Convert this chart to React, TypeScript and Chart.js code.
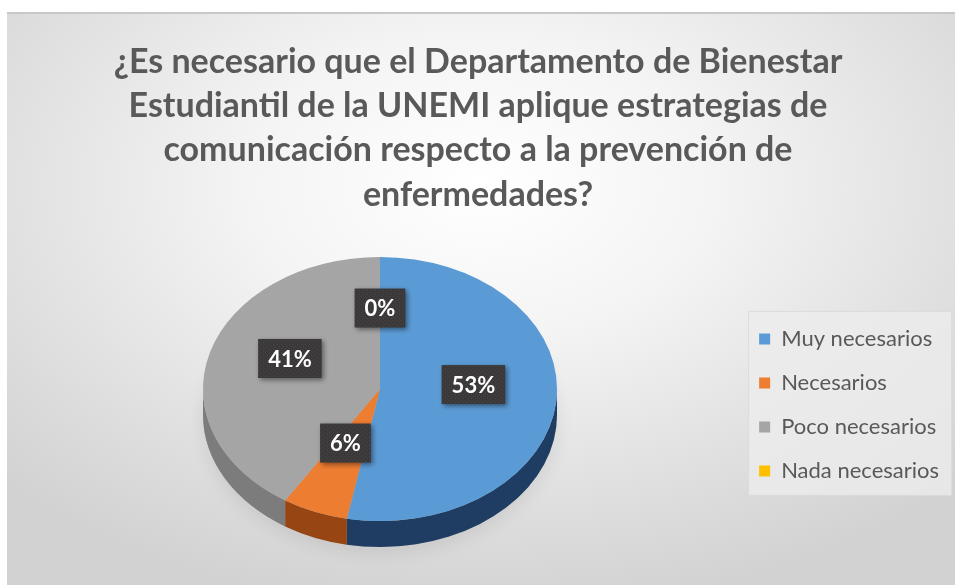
import React, { useEffect, useRef } from "react";
import { Chart, registerables } from "chart.js";

Chart.register(...registerables);

const titleLines = [
  "¿Es necesario que el Departamento de Bienestar",
  "Estudiantil de la UNEMI aplique estrategias de",
  "comunicación respecto a la prevención de",
  "enfermedades?",
];
const categories = ["Muy necesarios", "Necesarios", "Poco necesarios", "Nada necesarios"];
const percentValues = [53, 6, 41, 0];
const valueLabels = ["53%", "6%", "41%", "0%"];
const topColors = ["#5b9bd5", "#ed7d31", "#a5a5a5", "#ffc000"];
const sideColors = ["#1f3d63", "#974512", "#7c7c7c", "#a67c00"];

// ellipse geometry (canvas coordinates)
const CX = 373;
const CY = 375;
const RX = 177;
const RY = 132;
const DEPTH = 26;

const pie3d = {
  id: "pie3d",
  beforeDraw(chart: any) {
    const ctx = chart.ctx;
    const lg = chart.legend;
    if (lg && lg.legendHitBoxes && lg.legendHitBoxes.length) {
      const hb = lg.legendHitBoxes;
      const x = hb[0].left - 11;
      const y = hb[0].top - 17;
      const w = chart.width - 3 - x;
      const h = hb[hb.length - 1].top + hb[hb.length - 1].height + 14 - y;
      ctx.save();
      ctx.fillStyle = "rgba(236,236,236,0.8)";
      ctx.fillRect(x, y, w, h);
      ctx.strokeStyle = "rgba(210,210,210,0.6)";
      ctx.strokeRect(x + 0.5, y + 0.5, w - 1, h - 1);
      ctx.restore();
    }
  },
  beforeDatasetsDraw(chart: any) {
    const ctx = chart.ctx;
    const meta = chart.getDatasetMeta(0);
    const first = meta.data[0];
    const x0 = first.x;
    const y0 = first.y;
    const R = first.outerRadius;
    // shadow under the pie
    ctx.save();
    ctx.shadowColor = "rgba(0,0,0,0.25)";
    ctx.shadowBlur = 18;
    ctx.shadowOffsetY = 6;
    ctx.fillStyle = "rgba(120,120,120,0.35)";
    ctx.beginPath();
    ctx.ellipse(CX, CY + DEPTH, RX, RY, 0, 0, Math.PI * 2);
    ctx.fill();
    ctx.restore();
    // side walls
    meta.data.forEach((el: any, i: number) => {
      const a1 = Math.max(el.startAngle, 0);
      const a2 = Math.min(el.endAngle, Math.PI);
      if (a2 <= a1) return;
      ctx.save();
      ctx.fillStyle = sideColors[i];
      ctx.beginPath();
      ctx.ellipse(CX, CY, RX, RY, 0, a1, a2);
      ctx.ellipse(CX, CY + DEPTH, RX, RY, 0, a2, a1, true);
      ctx.closePath();
      ctx.fill();
      ctx.restore();
    });
    const k = RX / R;
    const s = RY / RX;
    ctx.save();
    ctx.translate(CX, CY);
    ctx.scale(k, k * s);
    ctx.translate(-x0, -y0);
  },
  afterDatasetsDraw(chart: any) {
    const ctx = chart.ctx;
    ctx.restore();
    const meta = chart.getDatasetMeta(0);
    // dotted texture pattern
    const pc = document.createElement("canvas");
    pc.width = 4;
    pc.height = 4;
    const pctx = pc.getContext("2d")!;
    pctx.fillStyle = "#3a3838";
    pctx.fillRect(0, 0, 4, 4);
    pctx.fillStyle = "#4a4848";
    pctx.fillRect(0, 0, 1, 1);
    pctx.fillRect(2, 2, 1, 1);
    const pattern = ctx.createPattern(pc, "repeat");
    ctx.save();
    ctx.font = "bold 22px Lato";
    ctx.textAlign = "center";
    ctx.textBaseline = "middle";
    meta.data.forEach((el: any, i: number) => {
      const mid = (el.startAngle + el.endAngle) / 2;
      const f = 0.53;
      const px = CX + RX * f * Math.cos(mid);
      const py = CY - 11 + RY * f * Math.sin(mid);
      const txt = valueLabels[i];
      const tw = ctx.measureText(txt).width;
      const bw = tw + 20;
      const bh = 39;
      ctx.save();
      ctx.shadowColor = "rgba(0,0,0,0.45)";
      ctx.shadowBlur = 5;
      ctx.shadowOffsetX = 2;
      ctx.shadowOffsetY = 2;
      ctx.fillStyle = pattern || "#3a3838";
      ctx.fillRect(px - bw / 2, py - bh / 2, bw, bh);
      ctx.restore();
      ctx.fillStyle = "#ffffff";
      ctx.fillText(txt, px, py + 1);
    });
    ctx.restore();
  },
};

export default function App() {
  const ref = useRef<HTMLCanvasElement>(null);
  useEffect(() => {
    document.body.style.margin = "0";
    const chart = new Chart(ref.current!, {
      type: "pie",
      data: {
        labels: categories,
        datasets: [
          {
            data: percentValues,
            backgroundColor: topColors,
            borderWidth: 0,
            clip: false,
          } as any,
        ],
      },
      plugins: [pie3d],
      options: {
        animation: false,
        responsive: false,
        layout: { padding: { left: 0, right: 6, top: 0, bottom: 10 } },
        plugins: {
          title: {
            display: true,
            text: titleLines,
            color: "#595959",
            font: { family: "Lato", size: 34, weight: "bold", lineHeight: 1.3 },
            padding: { top: 26, bottom: 18 },
          },
          legend: {
            position: "right",
            fullSize: false,
            labels: {
              boxWidth: 11,
              boxHeight: 11,
              padding: 22,
              color: "#595959",
              font: { family: "Lato", size: 22 },
            },
          },
          tooltip: { enabled: false },
        },
      },
    });
    return () => chart.destroy();
  }, []);
  return (
    <div
      style={{
        position: "absolute",
        left: 7,
        top: 12,
        width: 948,
        height: 573,
        background:
          "radial-gradient(ellipse 70% 75% at 50% 30%, #ffffff 0%, #f4f4f4 35%, #dcdcdc 80%, #d2d2d2 100%)",
        borderTop: "2px solid #c8c8c8",
        boxSizing: "border-box",
      }}
    >
      <canvas ref={ref} width={948} height={571} style={{ display: "block" }} />
    </div>
  );
}
